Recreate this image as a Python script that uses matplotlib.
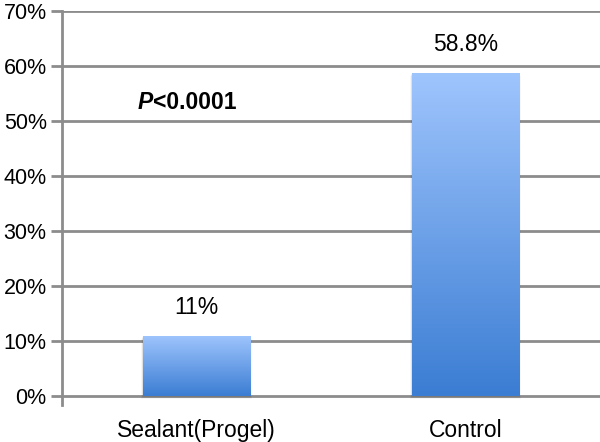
import matplotlib
matplotlib.use("Agg")
import matplotlib.pyplot as plt
import numpy as np
from matplotlib.colors import LinearSegmentedColormap

categories = ["Sealant(Progel)", "Control"]
values = [11, 58.8]
value_labels = ["11%", "58.8%"]
yticks = [0, 10, 20, 30, 40, 50, 60, 70]
ytick_labels = [f"{t}%" for t in yticks]

plt.rcParams['font.family'] = ['Liberation Sans', 'DejaVu Sans']

fig = plt.figure(figsize=(6, 4.42), dpi=100)
ax = fig.add_axes([62/600, 37/442, 538/600, 394/442])
ax.set_xlim(-0.5, 1.5)
ax.set_ylim(-1.6, 70)

x = np.arange(len(categories))
bars = ax.bar(x, values, width=0.4, color='none', edgecolor='none', zorder=3)

cmap = LinearSegmentedColormap.from_list("g", ["#3b7dd3", "#9fc5fd"])
grad = np.linspace(0, 1, 256).reshape(-1, 1)
for b in bars:
    x0, y0 = b.get_x(), b.get_y()
    w, h = b.get_width(), b.get_height()
    # soft shadow
    for k, a in enumerate([0.05, 0.04, 0.03]):
        ax.bar(x0 + w/2, h, width=w + 0.004*(k+1), bottom=y0 - 0.2*(k+1),
               color=(0, 0, 0, a), edgecolor='none', zorder=2)
    im = ax.imshow(grad, extent=[x0, x0 + w, y0, y0 + h], origin='lower', cmap=cmap,
                   aspect='auto', zorder=3, interpolation='bilinear')
    im.set_clip_path(b)

for xi, v, lab in zip(x, values, value_labels):
    ax.text(xi, v + 5.2, lab, ha='center', va='center', fontsize=16.5, color='black')

ax.set_xlim(-0.5, 1.5)
ax.set_ylim(-1.6, 70)

ax.set_yticks(yticks)
ax.set_yticklabels(ytick_labels, fontsize=15.5)
ax.set_xticks(x)
ax.set_xticklabels(categories, fontsize=16.5)
ax.tick_params(axis='x', length=0, pad=10)
ax.tick_params(axis='y', length=8, width=2, color='#8c8c8c', pad=3)
ax.yaxis.grid(True, color='#8c8c8c', linewidth=2)
ax.set_axisbelow(True)
for s in ['top', 'right', 'bottom']:
    ax.spines[s].set_visible(False)
ax.spines['left'].set_color('#8c8c8c')
ax.spines['left'].set_linewidth(2)

ptxt = ax.text(-0.22, 53.3, "P", fontsize=16.5, fontweight='bold', style='italic',
               ha='left', va='center')
ax.annotate("<0.0001", xy=(1, 0), xycoords=ptxt, fontsize=16.5, fontweight='bold',
            ha='left', va='bottom')

fig.savefig("out.png", dpi=100)
